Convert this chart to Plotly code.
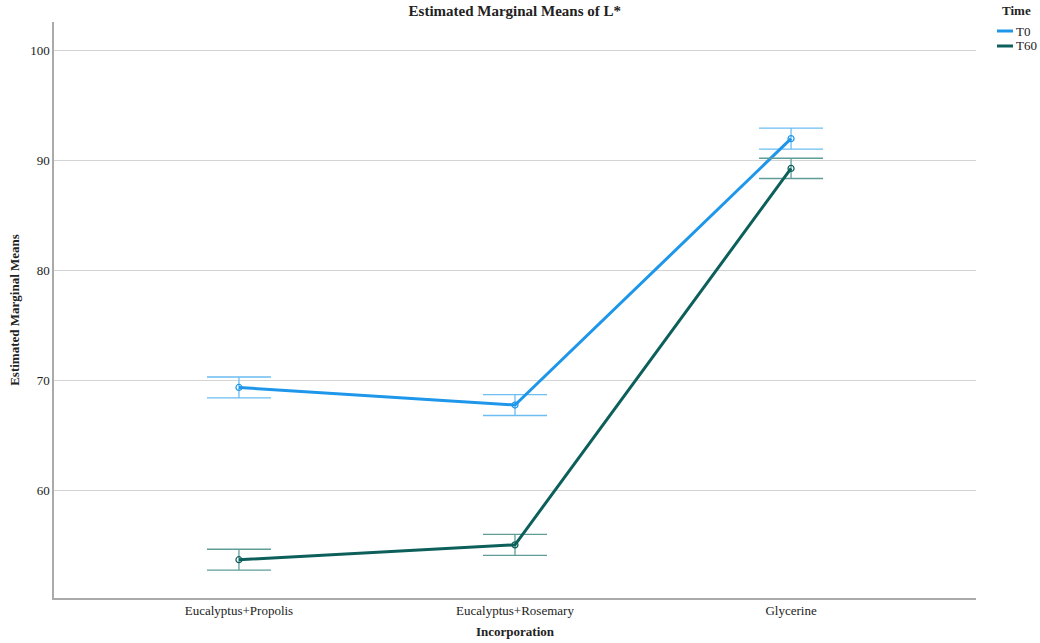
import plotly.graph_objects as go

# Estimated marginal means of L* by incorporation and time
categories = ["Eucalyptus+Propolis", "Eucalyptus+Rosemary", "Glycerine"]
t0_means = [69.4, 67.8, 92.0]
t60_means = [53.75, 55.1, 89.3]
t0_err = [0.95, 0.95, 0.95]
t60_err = [0.95, 0.95, 0.92]

series = [
    ("T0", t0_means, t0_err, "#1e96ea", "#6cbdf2"),
    ("T60", t60_means, t60_err, "#0c5f5a", "#5f9d99"),
]

serif = "Liberation Serif, Times New Roman, serif"

fig = go.Figure()
for name, means, errs, line_col, err_col in series:
    fig.add_trace(go.Scatter(
        x=categories,
        y=means,
        name=name,
        mode="lines+markers",
        showlegend=False,
        line=dict(color=line_col, width=3),
        marker=dict(symbol="circle-open", size=6, color=line_col, line=dict(width=1.2)),
        error_y=dict(type="data", array=errs, visible=True, color=err_col,
                     thickness=1.3, width=32),
    ))

# Plot-area geometry in pixels
W, H = 1040, 643
plot_l, plot_r, plot_t, plot_b = 54, W - 64, 22, H - 45


def px_to_paper_x(px):
    return (px - plot_l) / (plot_r - plot_l)


def px_to_paper_y(py):
    return (plot_b - py) / (plot_b - plot_t)


# Compact legend block at the top right
legend_x0 = 997
fig.add_annotation(text="<b>Time</b>", xref="paper", yref="paper",
                   x=px_to_paper_x(1000), y=px_to_paper_y(11),
                   xanchor="left", yanchor="middle", showarrow=False, font=dict(size=13))
for i, (name, _, _, line_col, _) in enumerate(series):
    ypix = 31 + 15 * i
    fig.add_shape(type="line", xref="paper", yref="paper",
                  x0=px_to_paper_x(legend_x0), x1=px_to_paper_x(legend_x0 + 16),
                  y0=px_to_paper_y(ypix), y1=px_to_paper_y(ypix),
                  line=dict(color=line_col, width=3))
    fig.add_annotation(text=name, xref="paper", yref="paper",
                       x=px_to_paper_x(legend_x0 + 17), y=px_to_paper_y(ypix),
                       xanchor="left", yanchor="middle", showarrow=False, font=dict(size=13))

fig.update_layout(
    width=W,
    height=H,
    margin=dict(l=plot_l, r=W - plot_r, t=plot_t, b=H - plot_b, autoexpand=False),
    plot_bgcolor="white",
    paper_bgcolor="white",
    font=dict(family=serif, size=13, color="#222"),
    title=dict(text="<b>Estimated Marginal Means of L*</b>", x=0.495, xanchor="center",
               y=0.983, yanchor="middle", font=dict(size=15, color="#222")),
    showlegend=False,
    xaxis=dict(
        type="category",
        range=[-0.67, 2.67],
        showgrid=False,
        showline=True, linecolor="#aaaaaa", linewidth=1.5,
        ticks="", tickfont=dict(size=13),
        title=dict(text="<b>Incorporation</b>", font=dict(size=13), standoff=10),
    ),
    yaxis=dict(
        range=[50.27, 102.6],
        tickvals=[60, 70, 80, 90, 100],
        showgrid=True, gridcolor="#d4d4d4", gridwidth=1,
        showline=True, linecolor="#aaaaaa", linewidth=1.5,
        zeroline=False, ticks="", tickfont=dict(size=13),
        title=dict(text="<b>Estimated Marginal Means</b>", font=dict(size=13), standoff=8),
    ),
)

fig.write_html("out.html")
